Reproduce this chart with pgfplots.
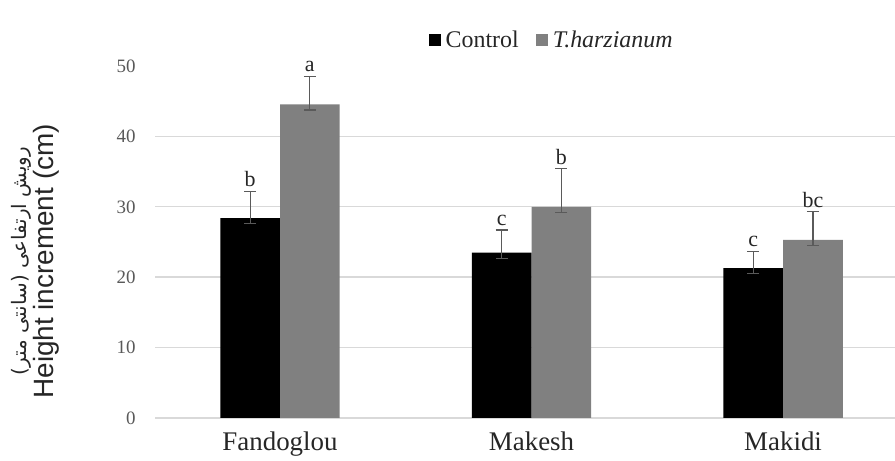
\documentclass[border=0pt]{standalone}
\usepackage{fontspec}
\setmainfont{Liberation Serif}
\newfontfamily\sansf{Liberation Sans}
\newfontfamily\arabicfont[Script=Arabic]{DejaVu Sans}
\TeXXeTstate=1
\usepackage{pgfplots}
\usepackage{pgfplotstable}
\pgfplotsset{compat=1.18}
\definecolor{barg}{RGB}{128,128,128}
\definecolor{gridc}{RGB}{217,217,217}
\definecolor{errc}{RGB}{90,90,90}
\definecolor{tickc}{RGB}{89,89,89}
\pgfplotstableread{
x y ep em lab
0 28.4 3.8 0.8 b
1 23.5 3.2 0.8 c
2 21.3 2.4 0.8 c
}\control
\pgfplotstableread{
x y ep em lab
0 44.55 4.0 0.8 a
1 30.0 5.4 0.8 b
2 25.3 4.0 0.8 bc
}\trich
\begin{document}
\begin{tikzpicture}
\path[use as bounding box] (0,0) rectangle (895bp,461bp);
\begin{axis}[
  at={(155bp,43bp)}, anchor=south west,
  scale only axis, width=740bp, height=352bp,
  ybar,
  xmin=-0.497, xmax=2.445,
  ymin=0, ymax=50,
  ytick={0,10,20,30,40},
  extra y ticks={50},
  extra y tick style={grid=none},
  ymajorgrids,
  grid style={gridc, line width=1.4bp},
  axis line style={draw=none},
  major tick length=0pt,
  xtick={0,1,2},
  xticklabels={Fandoglou,Makesh,Makidi},
  /pgf/number format/assume math mode=true,
  yticklabel style={font=\fontsize{19}{22}\selectfont, text=tickc, xshift=-16bp},
  xticklabel style={font=\fontsize{27}{31}\selectfont, text=black!85, yshift=-13bp, inner sep=1bp},
  ylabel={{\fontsize{20}{24}\selectfont\arabicfont\beginR رویش ارتفاعی (سانتی متر)\endR}\\[1bp]{\fontsize{28}{32}\selectfont\sansf Height increment (cm)}},
  ylabel style={align=center, at={(axis description cs:-0.125,0.445)}, anchor=south, text=black!85},
  legend style={at={(0.538,1.074)}, anchor=center, draw=none, fill=none,
    legend columns=2, font=\fontsize{24}{28}\selectfont, text=black!85,
    /tikz/every even column/.append style={column sep=12bp},
    /tikz/every node/.append style={inner xsep=5bp}},
  legend image code/.code={\fill[#1] (0bp,-6bp) rectangle (12bp,6bp);},
  error bars/error bar style={errc, line width=1.2bp},
  error bars/error mark options={errc, line width=1.2bp, mark size=6bp, rotate=90},
  nodes near coords style={font=\fontsize{22}{26}\selectfont, text=black!85, anchor=south, inner sep=4bp},
]
\addplot[fill=black, draw=none, bar width=59.7bp, bar shift=-29.85bp,
  error bars/.cd, y dir=both, y explicit]
  table[x=x, y=y, y error plus=ep, y error minus=em] {\control};
\addlegendentry{Control}
\addplot[fill=barg, draw=none, bar width=59.7bp, bar shift=29.85bp,
  error bars/.cd, y dir=both, y explicit]
  table[x=x, y=y, y error plus=ep, y error minus=em] {\trich};
\addlegendentry{\textit{T.harzianum}}
\addplot[draw=none, fill=none, bar width=59.7bp, bar shift=-29.85bp, forget plot,
  nodes near coords, point meta=explicit symbolic]
  table[x=x, y expr=\thisrow{y}+\thisrow{ep}, meta=lab] {\control};
\addplot[draw=none, fill=none, bar width=59.7bp, bar shift=29.85bp, forget plot,
  nodes near coords, point meta=explicit symbolic]
  table[x=x, y expr=\thisrow{y}+\thisrow{ep}, meta=lab] {\trich};
\end{axis}
\end{tikzpicture}
\end{document}
